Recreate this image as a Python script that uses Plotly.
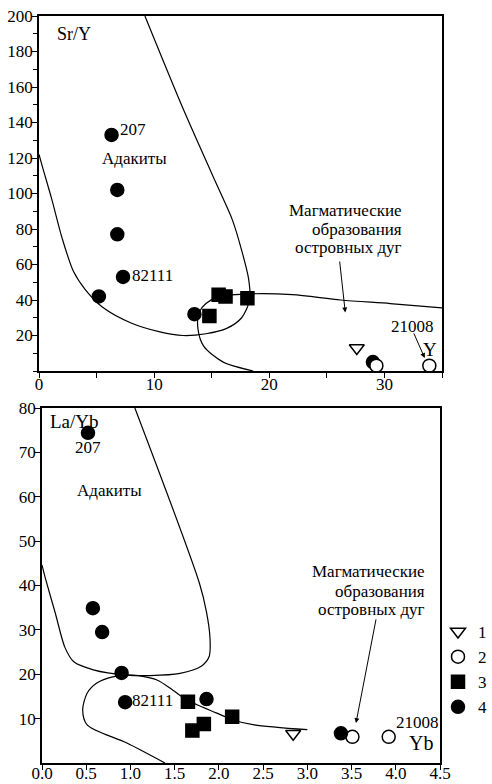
import plotly.graph_objects as go

# ---------- Top panel: Sr/Y vs Y ----------
top_s1_x = [27.6]
top_s1_y = [13]
top_s2_x = [29.3, 33.9]
top_s2_y = [3, 3]
top_s3_x = [15.6, 16.2, 14.8, 18.1]
top_s3_y = [43, 42, 31, 41]
top_s4_x = [6.3, 6.8, 6.8, 7.3, 5.2, 13.5, 29.0]
top_s4_y = [133, 102, 77, 53, 42, 32, 5]

# adakite field boundary (top)
top_adak_x = [0.0, 0.3, 1.1, 2.0, 3.0, 4.0, 5.5, 8.0, 10.5, 12.5, 14.5, 16.3, 17.6, 18.3, 18.2, 17.6, 16.8, 16.0, 15.3, 12.5, 9.2]
top_adak_y = [122, 115, 97, 75, 56, 46, 36, 27, 22, 20, 21, 24, 30, 40, 52, 68, 85, 97, 107, 148, 200]
# island-arc boundary (top)
top_arc_x = [18.6, 16.0, 14.3, 13.8, 13.9, 14.5, 15.7, 18.5, 22.0, 26.2, 30.5, 35.0]
top_arc_y = [0, 5, 14, 24, 33, 38, 42, 43.5, 43, 40, 38, 35.6]

# ---------- Bottom panel: La/Yb vs Yb ----------
bot_s1_x = [2.84]
bot_s1_y = [6.6]
bot_s2_x = [3.51, 3.92]
bot_s2_y = [5.9, 5.9]
bot_s3_x = [1.65, 1.70, 1.83, 2.15]
bot_s3_y = [13.8, 7.3, 8.8, 10.4]
bot_s4_x = [0.52, 0.575, 0.68, 0.90, 0.94, 1.86, 3.38]
bot_s4_y = [74.4, 34.9, 29.5, 20.3, 13.7, 14.4, 6.7]

bot_adak_x = [0.0, 0.04, 0.15, 0.26, 0.36, 0.58, 0.96, 1.22, 1.56, 1.80, 1.89, 1.90, 1.86, 1.78, 1.05]
bot_adak_y = [44.6, 41.5, 33.8, 26.0, 22.8, 21.0, 19.8, 19.7, 20.2, 21.8, 24.0, 28.0, 34.0, 40.5, 80.0]
bot_arc_x = [1.39, 0.96, 0.51, 0.46, 0.51, 0.62, 0.80, 1.03, 1.30, 1.48, 1.64, 1.97, 2.16, 2.40, 3.00]
bot_arc_y = [0.0, 4.5, 8.6, 12.0, 15.7, 18.0, 19.4, 19.8, 18.7, 16.4, 14.2, 11.3, 9.7, 8.6, 7.5]

legend_names = ["1", "2", "3", "4"]
arc_label_lines = ["Магматические", "образования", "островных дуг"]

W, H = 492, 784
FONT = "Liberation Serif"
BLACK = "black"

fig = go.Figure()

def add_series(xa, ya, xs, ys, symbol, filled, name, showlegend):
    fig.add_trace(go.Scatter(
        x=xs, y=ys, mode="markers", name=name, showlegend=showlegend,
        xaxis=xa, yaxis=ya,
        marker=dict(symbol=symbol, size=13,
                    color=BLACK if filled else "white",
                    line=dict(color=BLACK, width=1.5))))

def add_curve(xa, ya, xs, ys):
    fig.add_trace(go.Scatter(
        x=xs, y=ys, mode="lines", showlegend=False, xaxis=xa, yaxis=ya,
        line=dict(color=BLACK, width=1.2, shape="spline", smoothing=0.8),
        hoverinfo="skip"))

add_curve("x", "y", top_adak_x, top_adak_y)
add_curve("x", "y", top_arc_x, top_arc_y)
add_curve("x2", "y2", bot_adak_x, bot_adak_y)
add_curve("x2", "y2", bot_arc_x, bot_arc_y)

add_series("x", "y", top_s4_x, top_s4_y, "circle", True, legend_names[3], False)
add_series("x", "y", top_s3_x, top_s3_y, "square", True, legend_names[2], False)
add_series("x", "y", top_s2_x, top_s2_y, "circle", False, legend_names[1], False)
add_series("x", "y", top_s1_x, top_s1_y, "triangle-down", False, legend_names[0], False)

add_series("x2", "y2", bot_s1_x, bot_s1_y, "triangle-down", False, legend_names[0], True)
add_series("x2", "y2", bot_s2_x, bot_s2_y, "circle", False, legend_names[1], True)
add_series("x2", "y2", bot_s3_x, bot_s3_y, "square", True, legend_names[2], True)
add_series("x2", "y2", bot_s4_x, bot_s4_y, "circle", True, legend_names[3], True)

def px_x(p):
    return p / W

def px_y(p):
    return 1 - p / H

axis_common = dict(showline=True, linecolor=BLACK, linewidth=1.5, mirror=True,
                   ticks="outside", tickcolor=BLACK, tickwidth=1.2,
                   showgrid=False, zeroline=False, automargin=False,
                   tickfont=dict(family=FONT, size=17, color=BLACK))
yaxis_common = dict(ticklen=6, ticklabelstandoff=-5, **axis_common)

fig.update_layout(
    width=W, height=H, margin=dict(l=0, r=0, t=0, b=0, autoexpand=False),
    plot_bgcolor="white", paper_bgcolor="white",
    font=dict(family=FONT, size=17, color=BLACK),
    xaxis=dict(domain=[px_x(39), px_x(442)], range=[0, 35], anchor="y",
               tickvals=[0, 10, 20, 30], ticklen=5, ticklabelstandoff=-8,
               minor=dict(dtick=5, ticklen=5, tickcolor=BLACK, ticks="outside"),
               **axis_common),
    yaxis=dict(domain=[px_y(371), px_y(16)], range=[0, 200], anchor="x",
               tickvals=[20, 40, 60, 80, 100, 120, 140, 160, 180, 200],
               minor=dict(dtick=10, ticklen=4, tickcolor=BLACK, ticks="outside"),
               **yaxis_common),
    xaxis2=dict(domain=[px_x(42), px_x(440)], range=[0, 4.5], anchor="y2",
                tickvals=[0, 0.5, 1, 1.5, 2, 2.5, 3, 3.5, 4, 4.5], tickformat=".1f",
                ticklen=5, ticklabelstandoff=-11,
                **axis_common),
    yaxis2=dict(domain=[px_y(763), px_y(408)], range=[0, 80], anchor="x2",
                tickvals=[10, 20, 30, 40, 50, 60, 70, 80],
                **yaxis_common),
    legend=dict(x=px_x(438), y=px_y(614), xanchor="left", yanchor="top",
                bgcolor="rgba(0,0,0,0)", font=dict(family=FONT, size=17, color=BLACK),
                itemwidth=30, tracegroupgap=0),
    showlegend=True,
)

ann = []
def text(xref, yref, x, y, t, xanchor="left", yanchor="middle", size=17, align="left"):
    ann.append(dict(xref=xref, yref=yref, x=x, y=y, text=t, showarrow=False,
                    xanchor=xanchor, yanchor=yanchor, align=align,
                    font=dict(family=FONT, size=size, color=BLACK)))

# top labels
text("x", "y", 1.4, 190, "Sr/Y", size=18)
text("x", "y", 8.3, 120, "Адакиты", xanchor="center")
text("x", "y", 6.9, 136, "207")
text("x", "y", 7.9, 54, "82111")
text("x", "y", 32.4, 25, "21008", xanchor="center")
text("x", "y", 34.0, 12, "Y", xanchor="center", size=19)
for line, yv in zip(arc_label_lines, [90.7, 80.0, 69.3]):
    text("x", "y", 31.7, yv, line, xanchor="right")
# bottom labels
text("x2", "y2", 0.07, 77, "La/Yb", size=19)
text("x2", "y2", 0.52, 71, "207", xanchor="center")
text("x2", "y2", 0.76, 61.5, "Адакиты", xanchor="center")
text("x2", "y2", 1.0, 14, "82111")
text("x2", "y2", 4.24, 9.2, "21008", xanchor="center")
text("x2", "y2", 4.29, 4.6, "Yb", xanchor="center", size=20)
for line, yv in zip(arc_label_lines, [43.1, 38.6, 34.5]):
    text("x2", "y2", 4.35, yv, line, xanchor="right")

# arrows
ann.append(dict(xref="x", yref="y", axref="x", ayref="y", x=26.6, y=33, ax=26.1, ay=62.5,
                showarrow=True, arrowhead=2, arrowsize=1, arrowwidth=1, arrowcolor=BLACK, text=""))
ann.append(dict(xref="x", yref="y", axref="x", ayref="y", x=33.5, y=7.3, ax=32.5, ay=22,
                showarrow=True, arrowhead=2, arrowsize=1, arrowwidth=1, arrowcolor=BLACK, text=""))
ann.append(dict(xref="x2", yref="y2", axref="x2", ayref="y2", x=3.55, y=9, ax=3.78, ay=32.7,
                showarrow=True, arrowhead=2, arrowsize=1, arrowwidth=1, arrowcolor=BLACK, text=""))

fig.update_layout(annotations=ann)

fig.write_html("out.html")
